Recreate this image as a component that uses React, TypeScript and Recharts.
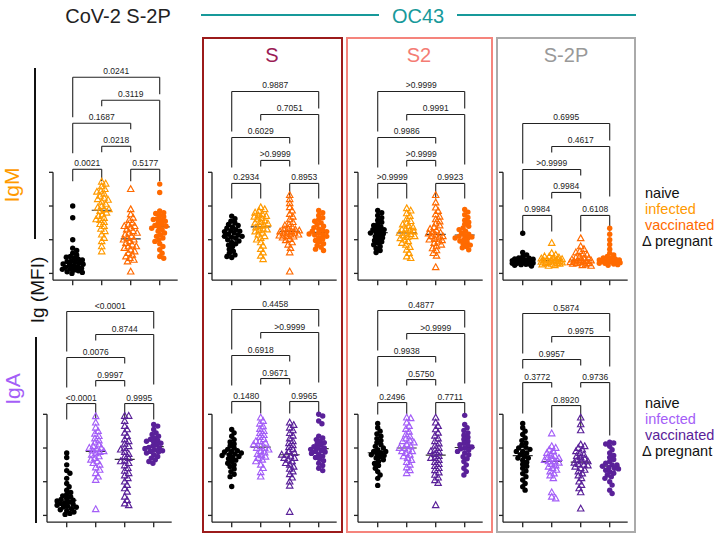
import React from 'react';
import { ScatterChart, Scatter, XAxis, YAxis, ReferenceLine } from 'recharts';

const FONT = '"Liberation Sans", Arial, Helvetica, sans-serif';

// group order in every panel: naive, infected (pregnant), vaccinated (pregnant), vaccinated
const groupNames = ['naive', 'infected', 'vaccinated', 'vaccinated'];

// ---- CoV-2 S-2P ----
const covIgmNaive = [2.0, 1.65, 1.0, 0.75, 0.68, 0.6, 0.55, 0.5, 0.48, 0.45, 0.42, 0.4, 0.36, 0.35, 0.33, 0.3, 0.28, 0.27, 0.25, 0.22, 0.2, 0.18, 0.15, 0.13, 0.12, 0.1, 0.08, 0.05, 0.03, 0.0];
const covIgmInf = [2.72, 2.66, 2.58, 2.5, 2.45, 2.42, 2.36, 2.3, 2.24, 2.2, 2.18, 2.12, 2.06, 2.0, 1.95, 1.9, 1.9, 1.85, 1.8, 1.75, 1.7, 1.64, 1.6, 1.58, 1.52, 1.46, 1.4, 1.32, 1.25, 1.15, 1.05, 0.95, 0.8, 0.65];
const covIgmVac = [2.5, 1.9, 1.75, 1.65, 1.58, 1.5, 1.45, 1.4, 1.4, 1.35, 1.3, 1.25, 1.2, 1.2, 1.15, 1.1, 1.05, 1.0, 1.0, 0.95, 0.9, 0.85, 0.8, 0.8, 0.75, 0.7, 0.65, 0.6, 0.55, 0.5, 0.45, 0.4, 0.35, 0.05];
const covIgmVacC = [2.65, 2.4, 1.85, 1.8, 1.78, 1.72, 1.68, 1.62, 1.6, 1.58, 1.55, 1.5, 1.46, 1.42, 1.4, 1.38, 1.34, 1.3, 1.25, 1.2, 1.15, 1.1, 1.05, 1.0, 0.95, 0.88, 0.8, 0.7, 0.6, 0.5, 0.45];

const covIgaNaive = [1.85, 1.72, 1.5, 1.33, 1.25, 1.1, 0.95, 0.85, 0.75, 0.68, 0.62, 0.58, 0.55, 0.5, 0.47, 0.45, 0.43, 0.4, 0.37, 0.35, 0.33, 0.3, 0.27, 0.25, 0.24, 0.2, 0.17, 0.14, 0.1, 0.06, 0.03];
const covIgaInf = [2.94, 2.75, 2.6, 2.5, 2.42, 2.35, 2.28, 2.22, 2.16, 2.1, 2.05, 2.0, 2.0, 1.96, 1.92, 1.9, 1.88, 1.84, 1.8, 1.75, 1.7, 1.65, 1.6, 1.55, 1.5, 1.42, 1.35, 1.25, 1.15, 1.05, 0.18];
const covIgaVac = [2.95, 2.95, 2.8, 2.65, 2.55, 2.45, 2.35, 2.25, 2.2, 2.12, 2.05, 2.0, 1.95, 1.88, 1.82, 1.75, 1.7, 1.62, 1.6, 1.55, 1.48, 1.4, 1.32, 1.25, 1.18, 1.1, 1.0, 0.9, 0.8, 0.7, 0.55, 0.45, 0.35, 0.3];
const covIgaVacC = [2.7, 2.65, 2.55, 2.45, 2.4, 2.35, 2.3, 2.26, 2.22, 2.2, 2.18, 2.14, 2.1, 2.06, 2.02, 2.0, 1.98, 1.95, 1.92, 1.9, 1.88, 1.85, 1.8, 1.75, 1.7, 1.65, 1.6, 1.55];

// ---- OC43 S ----
const sIgmNaive = [1.7, 1.62, 1.55, 1.5, 1.45, 1.42, 1.38, 1.34, 1.3, 1.27, 1.25, 1.24, 1.2, 1.17, 1.14, 1.1, 1.1, 1.07, 1.04, 1.0, 0.96, 0.92, 0.88, 0.84, 0.8, 0.72, 0.66, 0.6, 0.55, 0.5, 0.47];
const sIgmInf = [1.96, 1.9, 1.85, 1.8, 1.76, 1.72, 1.7, 1.68, 1.64, 1.6, 1.56, 1.52, 1.5, 1.48, 1.44, 1.4, 1.36, 1.32, 1.3, 1.28, 1.24, 1.2, 1.15, 1.1, 1.05, 1.0, 0.92, 0.82, 0.72, 0.62, 0.52, 0.42];
const sIgmVac = [2.32, 2.2, 2.08, 1.96, 1.86, 1.76, 1.68, 1.6, 1.52, 1.46, 1.42, 1.38, 1.34, 1.3, 1.3, 1.27, 1.25, 1.24, 1.21, 1.2, 1.18, 1.15, 1.15, 1.12, 1.1, 1.09, 1.06, 1.02, 0.98, 0.92, 0.85, 0.75, 0.62, 0.05];
const sIgmVacC = [1.87, 1.8, 1.72, 1.65, 1.6, 1.55, 1.5, 1.45, 1.4, 1.36, 1.32, 1.28, 1.25, 1.24, 1.2, 1.17, 1.15, 1.14, 1.1, 1.06, 1.02, 0.98, 0.93, 0.88, 0.83, 0.78, 0.72, 0.68];

const sIgaNaive = [2.55, 2.45, 2.35, 2.25, 2.18, 2.12, 2.06, 2.0, 1.96, 1.92, 1.9, 1.88, 1.85, 1.82, 1.8, 1.78, 1.75, 1.72, 1.68, 1.64, 1.6, 1.55, 1.5, 1.45, 1.38, 1.3, 1.22, 1.15, 0.86];
const sIgaInf = [2.9, 2.8, 2.72, 2.64, 2.56, 2.5, 2.44, 2.38, 2.32, 2.26, 2.2, 2.2, 2.15, 2.1, 2.05, 2.0, 2.0, 1.95, 1.9, 1.86, 1.82, 1.78, 1.74, 1.7, 1.65, 1.6, 1.5, 1.4, 1.28, 1.15];
const sIgaVac = [2.75, 2.68, 2.6, 2.52, 2.44, 2.36, 2.28, 2.2, 2.14, 2.08, 2.02, 1.96, 1.9, 1.85, 1.8, 1.8, 1.75, 1.7, 1.7, 1.65, 1.6, 1.55, 1.5, 1.44, 1.38, 1.3, 1.22, 1.12, 1.0, 0.88, 0.1];
const sIgaVacC = [3.0, 2.95, 2.8, 2.72, 2.35, 2.3, 2.25, 2.2, 2.16, 2.12, 2.08, 2.04, 2.0, 2.0, 1.96, 1.92, 1.9, 1.88, 1.84, 1.8, 1.76, 1.72, 1.68, 1.62, 1.55, 1.48, 1.4, 1.33];

// ---- OC43 S2 ----
const s2IgmNaive = [1.87, 1.8, 1.72, 1.65, 1.58, 1.52, 1.46, 1.42, 1.38, 1.34, 1.3, 1.3, 1.26, 1.22, 1.2, 1.18, 1.14, 1.1, 1.06, 1.02, 0.98, 0.94, 0.9, 0.85, 0.8, 0.74, 0.68, 0.62];
const s2IgmInf = [1.93, 1.86, 1.78, 1.7, 1.62, 1.55, 1.5, 1.45, 1.4, 1.36, 1.32, 1.3, 1.28, 1.24, 1.2, 1.2, 1.16, 1.12, 1.1, 1.08, 1.04, 1.0, 0.95, 0.9, 0.85, 0.78, 0.7, 0.6, 0.5, 0.45];
const s2IgmVac = [2.32, 2.1, 1.95, 1.85, 1.75, 1.68, 1.6, 1.54, 1.48, 1.42, 1.37, 1.32, 1.27, 1.22, 1.2, 1.18, 1.14, 1.1, 1.1, 1.06, 1.02, 1.0, 0.98, 0.94, 0.9, 0.85, 0.8, 0.74, 0.68, 0.6, 0.52, 0.18];
const s2IgmVacC = [1.9, 1.82, 1.74, 1.66, 1.58, 1.52, 1.46, 1.4, 1.35, 1.3, 1.25, 1.2, 1.16, 1.12, 1.1, 1.08, 1.05, 1.04, 1.0, 0.96, 0.92, 0.88, 0.84, 0.8, 0.76, 0.7];

const s2IgaNaive = [2.73, 2.6, 2.5, 2.42, 2.35, 2.28, 2.22, 2.16, 2.1, 2.05, 2.0, 1.95, 1.9, 1.9, 1.86, 1.82, 1.8, 1.78, 1.74, 1.7, 1.65, 1.6, 1.54, 1.48, 1.4, 1.3, 1.2, 1.1, 0.89];
const s2IgaInf = [2.9, 2.88, 2.75, 2.65, 2.56, 2.48, 2.4, 2.34, 2.28, 2.22, 2.2, 2.16, 2.1, 2.05, 2.0, 2.0, 1.95, 1.9, 1.9, 1.85, 1.8, 1.75, 1.7, 1.64, 1.58, 1.5, 1.42, 1.34, 1.25];
const s2IgaVac = [2.9, 2.75, 2.65, 2.55, 2.45, 2.36, 2.28, 2.2, 2.13, 2.06, 2.0, 1.94, 1.9, 1.88, 1.82, 1.76, 1.7, 1.7, 1.64, 1.58, 1.52, 1.46, 1.4, 1.34, 1.27, 1.2, 1.12, 1.04, 0.96, 0.3];
const s2IgaVacC = [2.97, 2.7, 2.6, 2.52, 2.45, 2.38, 2.32, 2.26, 2.2, 2.14, 2.1, 2.08, 2.03, 2.0, 1.98, 1.94, 1.9, 1.85, 1.8, 1.74, 1.68, 1.6, 1.5, 1.4, 1.3, 1.2];

// ---- OC43 S-2P ----
const s2pIgmNaive = [1.19, 0.62, 0.55, 0.5, 0.46, 0.45, 0.43, 0.42, 0.4, 0.4, 0.38, 0.38, 0.36, 0.35, 0.34, 0.33, 0.32, 0.31, 0.3, 0.3, 0.28, 0.27, 0.26, 0.24, 0.22];
const s2pIgmInf = [0.9, 0.6, 0.55, 0.5, 0.5, 0.47, 0.45, 0.44, 0.42, 0.41, 0.4, 0.38, 0.38, 0.36, 0.35, 0.34, 0.33, 0.32, 0.3, 0.3, 0.28, 0.28, 0.26, 0.24, 0.22];
const s2pIgmVac = [1.04, 0.8, 0.72, 0.66, 0.62, 0.58, 0.55, 0.5, 0.47, 0.45, 0.44, 0.41, 0.4, 0.38, 0.38, 0.36, 0.35, 0.34, 0.33, 0.32, 0.3, 0.3, 0.28, 0.26, 0.24, 0.22];
const s2pIgmVacC = [1.34, 1.16, 1.0, 0.86, 0.72, 0.6, 0.55, 0.5, 0.46, 0.45, 0.43, 0.4, 0.4, 0.38, 0.38, 0.36, 0.35, 0.34, 0.32, 0.3, 0.3, 0.28, 0.26, 0.24];

const s2pIgaNaive = [2.73, 2.6, 2.5, 2.4, 2.3, 2.22, 2.15, 2.08, 2.02, 2.0, 1.96, 1.9, 1.9, 1.85, 1.8, 1.75, 1.7, 1.7, 1.64, 1.58, 1.52, 1.46, 1.4, 1.32, 1.24, 1.15, 1.05, 0.95, 0.85, 0.75];
const s2pIgaInf = [2.43, 2.05, 2.0, 1.95, 1.9, 1.85, 1.8, 1.76, 1.72, 1.7, 1.68, 1.64, 1.6, 1.6, 1.56, 1.52, 1.48, 1.44, 1.4, 1.35, 1.3, 1.24, 1.18, 1.1, 0.68, 0.55, 0.5];
const s2pIgaVac = [2.9, 2.7, 2.52, 2.1, 2.05, 2.0, 1.95, 1.9, 1.85, 1.8, 1.76, 1.72, 1.68, 1.64, 1.6, 1.6, 1.56, 1.52, 1.5, 1.48, 1.44, 1.4, 1.35, 1.3, 1.24, 1.18, 1.1, 1.0, 0.9, 0.8, 0.68, 0.2];
const s2pIgaVacC = [2.17, 2.15, 2.12, 2.05, 1.95, 1.85, 1.78, 1.72, 1.66, 1.6, 1.55, 1.5, 1.5, 1.46, 1.42, 1.4, 1.38, 1.34, 1.3, 1.25, 1.2, 1.15, 1.1, 1.0, 0.9, 0.75, 0.65];

// comparisons and their p values, same order in every panel
const pairs = [[0, 1], [2, 3], [1, 2], [0, 2], [1, 3], [0, 3]];
const covIgmP = ['0.0021', '0.5177', '0.0218', '0.1687', '0.3119', '0.0241'];
const sIgmP = ['0.2934', '0.8953', '>0.9999', '0.6029', '0.7051', '0.9887'];
const s2IgmP = ['>0.9999', '0.9923', '>0.9999', '0.9986', '0.9991', '>0.9999'];
const s2pIgmP = ['0.9984', '0.6108', '0.9984', '>0.9999', '0.4617', '0.6995'];
const covIgaP = ['<0.0001', '0.9995', '0.9997', '0.0076', '0.8744', '<0.0001'];
const sIgaP = ['0.1480', '0.9965', '0.9671', '0.6918', '>0.9999', '0.4458'];
const s2IgaP = ['0.2496', '0.7711', '0.5750', '0.9938', '>0.9999', '0.4877'];
const s2pIgaP = ['0.3772', '0.9736', '0.8920', '0.9957', '0.9975', '0.5874'];

// ---- layout ----
const PX = 29;
const PY = 33.7;
const XMIN = -0.68;
const XMAX = 3.62;
const YMIN = -0.2;
const YMAX = 6.6;
const YW = 10;
const XH = 10;
const PLOT_W = (XMAX - XMIN) * PX;
const PLOT_H = (YMAX - YMIN) * PY;
const STEP = 23 / PY;

const STD = { levels: [1, 1, 2, 3, 4, 5], legs: (l1: number) => [[l1, l1], [l1, l1], [6, 6], [30, 6], [6, 50], [40, 17]] };
const ALT = { levels: [2, 2, 1, 3, 4, 5], legs: (_l1: number) => [[31, 5], [5, 53], [22, 22], [9, 6], [6, 30], [40, 18]] };

const IGM_COLORS = ['#000000', '#ff9a00', '#ff6a00', '#ff6a00'];
const IGA_COLORS = ['#000000', '#a45ef7', '#5a2199', '#5a2199'];

const panels = [
  { id: 'covM', groups: [covIgmNaive, covIgmInf, covIgmVac, covIgmVacC], p: covIgmP, colors: IGM_COLORS, ax: 53, y0: 273, base: 3.09, l1: 12, lay: STD },
  { id: 'sM', groups: [sIgmNaive, sIgmInf, sIgmVac, sIgmVacC], p: sIgmP, colors: IGM_COLORS, ax: 212, y0: 273, base: 2.67, l1: 15, lay: STD },
  { id: 's2M', groups: [s2IgmNaive, s2IgmInf, s2IgmVac, s2IgmVacC], p: s2IgmP, colors: IGM_COLORS, ax: 358, y0: 273, base: 2.67, l1: 15, lay: STD },
  { id: 's2pM', groups: [s2pIgmNaive, s2pIgmInf, s2pIgmVac, s2pIgmVacC], p: s2pIgmP, colors: IGM_COLORS, ax: 503, y0: 273, base: 1.72, l1: 16, lay: STD },
  { id: 'covA', groups: [covIgaNaive, covIgaInf, covIgaVac, covIgaVacC], p: covIgaP, colors: IGA_COLORS, ax: 47, y0: 515, base: 3.32, l1: 16, lay: STD },
  { id: 'sA', groups: [sIgaNaive, sIgaInf, sIgaVac, sIgaVacC], p: sIgaP, colors: IGA_COLORS, ax: 212, y0: 515, base: 3.38, l1: 12, lay: STD },
  { id: 's2A', groups: [s2IgaNaive, s2IgaInf, s2IgaVac, s2IgaVacC], p: s2IgaP, colors: IGA_COLORS, ax: 358, y0: 515, base: 3.35, l1: 12, lay: STD },
  { id: 's2pA', groups: [s2pIgaNaive, s2pIgaInf, s2pIgaVac, s2pIgaVacC], p: s2pIgaP, colors: IGA_COLORS, ax: 503, y0: 515, base: 3.26, l1: 22, lay: ALT },
];

// beeswarm layout: spread points sideways, capped at a maximum half-width
function swarm(vals: number[], idx: number) {
  const D = 4;
  const MAXW = 11;
  const cands: number[] = [0];
  for (let c = 0.8; c <= MAXW; c += 0.8) cands.push(c, -c);
  const placed: { px: number; py: number }[] = [];
  const sorted = [...vals].sort((a, b) => b - a);
  return sorted.map((v) => {
    const py = v * PY;
    let best = 0;
    let bestGap = -1;
    for (const c of cands) {
      const gap = placed.length
        ? Math.min(...placed.map((p) => Math.hypot(p.px - c, p.py - py)))
        : Infinity;
      if (gap >= D) {
        best = c;
        bestGap = gap;
        break;
      }
      if (gap > bestGap) {
        bestGap = gap;
        best = c;
      }
    }
    placed.push({ px: best, py });
    return { x: idx + best / PX, y: v };
  });
}

function median(vals: number[]) {
  const s = [...vals].sort((a, b) => a - b);
  const m = Math.floor(s.length / 2);
  return s.length % 2 ? s[m] : (s[m - 1] + s[m]) / 2;
}

const dotShape = (color: string) => (p: any) => <circle cx={p.cx} cy={p.cy} r={2.7} fill={color} />;
const triShape = (color: string) => (p: any) => (
  <path
    d={`M${p.cx},${p.cy - 3.5}L${p.cx + 3.2},${p.cy + 2.3}L${p.cx - 3.2},${p.cy + 2.3}Z`}
    fill="none"
    stroke={color}
    strokeWidth={1.15}
  />
);
const medShape = (p: any) => (
  <line x1={p.cx - 10} x2={p.cx + 10} y1={p.cy} y2={p.cy} stroke="#333" strokeWidth={1.2} />
);

const INK = '#222';

function Panel({ cfg }: { cfg: (typeof panels)[number] }) {
  const legs = cfg.lay.legs(cfg.l1);
  return (
    <div style={{ position: 'absolute', left: cfg.ax - YW, top: cfg.y0 - YMAX * PY }}>
      <ScatterChart width={YW + PLOT_W} height={PLOT_H + XH} margin={{ top: 0, right: 0, bottom: 0, left: 0 }}>
        <XAxis
          type="number"
          dataKey="x"
          domain={[XMIN, XMAX]}
          ticks={[0, 1, 2, 3]}
          interval={0}
          tickFormatter={() => ''}
          tickSize={5}
          height={XH}
          allowDataOverflow
          axisLine={{ stroke: INK, strokeWidth: 1.3 }}
          tickLine={{ stroke: INK, strokeWidth: 1.3 }}
        />
        <YAxis
          type="number"
          dataKey="y"
          domain={[YMIN, YMAX]}
          ticks={[0, 1, 2, 3]}
          interval={0}
          tickFormatter={() => ''}
          tickSize={4}
          width={YW}
          allowDataOverflow
          axisLine={false}
          tickLine={{ stroke: INK, strokeWidth: 1.3 }}
        />
        <ReferenceLine
          segment={[{ x: XMIN, y: YMIN }, { x: XMIN, y: 3 }]}
          stroke={INK}
          strokeWidth={1.3}
          ifOverflow="visible"
        />
        {pairs.map(([a, b], i) => {
          const y = cfg.base + (cfg.lay.levels[i] - 1) * STEP;
          const [ll, lr] = legs[i];
          return (
            <React.Fragment key={`br-${i}`}>
              <ReferenceLine
                segment={[{ x: a, y }, { x: b, y }]}
                stroke={INK}
                strokeWidth={1.1}
                ifOverflow="visible"
                label={{ value: cfg.p[i], position: 'top', offset: 3, fontSize: 8.5, fill: '#222', fontFamily: FONT }}
              />
              <ReferenceLine segment={[{ x: a, y }, { x: a, y: y - ll / PY }]} stroke={INK} strokeWidth={1.1} ifOverflow="visible" />
              <ReferenceLine segment={[{ x: b, y }, { x: b, y: y - lr / PY }]} stroke={INK} strokeWidth={1.1} ifOverflow="visible" />
            </React.Fragment>
          );
        })}
        <Scatter
          data={cfg.groups.map((vals, gi) => ({ x: gi, y: median(vals) }))}
          isAnimationActive={false}
          shape={medShape}
        />
        {cfg.groups.map((vals, gi) => (
          <Scatter
            key={`g-${gi}`}
            name={groupNames[gi]}
            data={swarm(vals, gi)}
            isAnimationActive={false}
            shape={gi === 1 || gi === 2 ? triShape(cfg.colors[gi]) : dotShape(cfg.colors[gi])}
          />
        ))}
      </ScatterChart>
    </div>
  );
}

export default function App() {
  const t = { fontFamily: FONT };
  return (
    <div style={{ position: 'absolute', left: 0, top: 0, width: 714, height: 535, background: '#fff', fontFamily: FONT }}>
      <svg width={714} height={535} style={{ position: 'absolute', left: 0, top: 0 }}>
        <text x={118} y={16} textAnchor="middle" dominantBaseline="central" fontSize={20} fill="#222" style={t}>CoV-2 S-2P</text>
        <line x1={201} y1={15} x2={379} y2={15} stroke="#17999a" strokeWidth={2} />
        <line x1={457} y1={15} x2={636} y2={15} stroke="#17999a" strokeWidth={2} />
        <text x={418} y={16} textAnchor="middle" dominantBaseline="central" fontSize={20} fill="#17999a" style={t}>OC43</text>

        <rect x={203} y={38} width={139} height={494} fill="none" stroke="#9c1b1b" strokeWidth={2} />
        <text x={272} y={55} textAnchor="middle" dominantBaseline="central" fontSize={20} fill="#9b1c55" style={t}>S</text>
        <rect x={347} y={38} width={145} height={494} fill="none" stroke="#f5847c" strokeWidth={2} />
        <text x={419} y={55} textAnchor="middle" dominantBaseline="central" fontSize={20} fill="#f47c74" style={t}>S2</text>
        <rect x={497} y={38} width={138} height={494} fill="none" stroke="#aaaaaa" strokeWidth={2} />
        <text x={566} y={55} textAnchor="middle" dominantBaseline="central" fontSize={20} fill="#999999" style={t}>S-2P</text>

        <line x1={35} y1={68} x2={35} y2={239} stroke="#111" strokeWidth={2} />
        <line x1={36} y1={337} x2={36} y2={523} stroke="#111" strokeWidth={2} />
        <text transform="translate(11,185) rotate(-90)" textAnchor="middle" dominantBaseline="central" fontSize={21} fill="#ff9a00" style={t}>IgM</text>
        <text transform="translate(12,389) rotate(-90)" textAnchor="middle" dominantBaseline="central" fontSize={21} fill="#a45ef7" style={t}>IgA</text>
        <text transform="translate(37,290) rotate(-90)" textAnchor="middle" dominantBaseline="central" fontSize={19} fill="#111" style={t}>Ig (MFI)</text>

        <text x={645} y={193} dominantBaseline="central" fontSize={14.5} fill="#111" style={t}>naive</text>
        <text x={645} y={209} dominantBaseline="central" fontSize={14.5} fill="#ff9a00" style={t}>infected</text>
        <text x={645} y={225} dominantBaseline="central" fontSize={14.5} fill="#ff6a00" style={t}>vaccinated</text>
        <text x={642} y={241} dominantBaseline="central" fontSize={14.5} fill="#111" style={t}>Δ pregnant</text>

        <text x={645} y={403} dominantBaseline="central" fontSize={14.5} fill="#111" style={t}>naive</text>
        <text x={645} y={419} dominantBaseline="central" fontSize={14.5} fill="#a45ef7" style={t}>infected</text>
        <text x={645} y={435} dominantBaseline="central" fontSize={14.5} fill="#5a2199" style={t}>vaccinated</text>
        <text x={642} y={451} dominantBaseline="central" fontSize={14.5} fill="#111" style={t}>Δ pregnant</text>
      </svg>
      {panels.map((cfg) => (
        <Panel key={cfg.id} cfg={cfg} />
      ))}
    </div>
  );
}
